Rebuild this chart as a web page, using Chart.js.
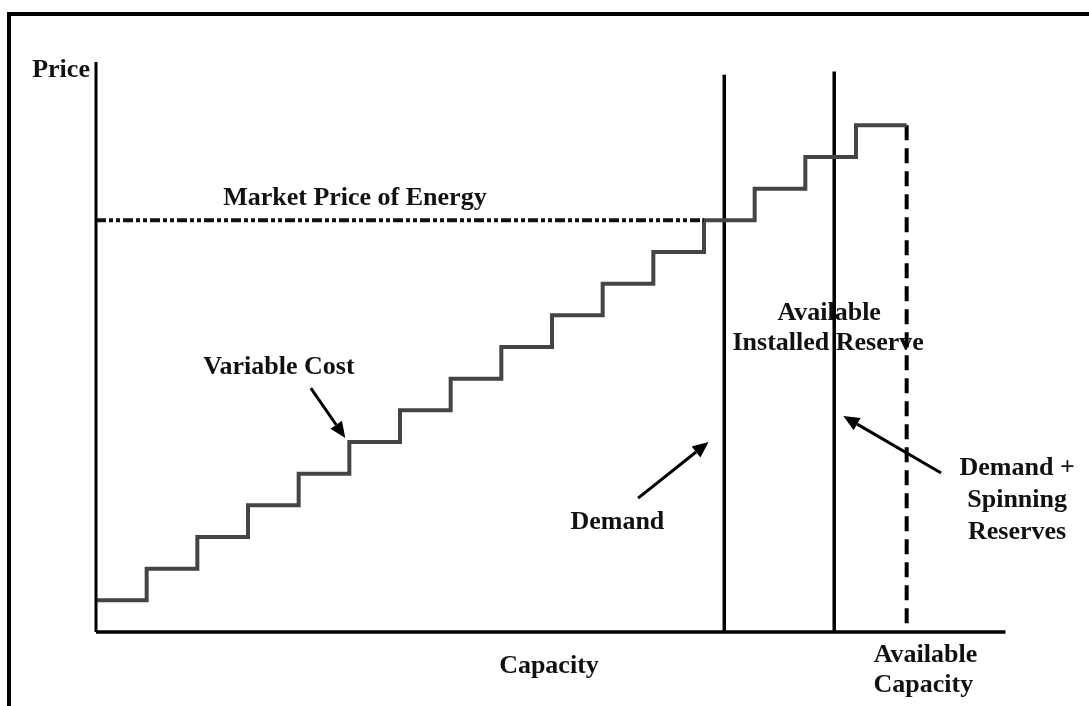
<!DOCTYPE html>
<html lang="en">
<head>
  <meta charset="UTF-8" />
  <title>Market Price of Energy – Supply Stack</title>
  <script src="https://cdn.jsdelivr.net/npm/chart.js@4.4.0/dist/chart.umd.min.js"></script>
  <style>
    html, body { margin: 0; padding: 0; background: #fff; overflow: hidden; }
    #wrap { position: relative; width: 1089px; height: 706px; }
    #frame { position: absolute; left: 7px; top: 12px; width: 1200px; height: 800px;
             border: 4px solid #000; box-sizing: border-box; pointer-events: none; }
  </style>
</head>
<body>
  <div id="wrap">
    <canvas id="stack"></canvas>
    <div id="frame"></div>
  </div>

  <script>
    // ---- data (capacity units = one generator block, price units = one cost step) ----
    const stepCapacity  = [0, 1, 2, 3, 4, 5, 6, 7, 8, 9, 10, 11, 12, 13, 14, 15, 16];
    const stepCost      = [1, 2, 3, 4, 5, 6, 7, 8, 9, 10, 11, 12, 13, 14, 15, 16, 16];
    const marketPrice   = 13;
    const marketPriceTo = 12;            // dotted line runs until it meets the stack
    const demand        = 12.4;
    const demandTop     = 17.6;
    const spinning      = 14.57;         // demand + spinning reserves
    const spinningTop   = 17.7;
    const availableCap  = 16;            // dashed line, available capacity
    const xAxisEnd      = 17.95;
    const yAxisEnd      = 18;

    const seg = (x0, y0, x1, y1) => [{ x: x0, y: y0 }, { x: x1, y: y1 }];
    const base = { showLine: true, pointRadius: 0, clip: false, fill: false };

    // ---- labels & arrows (in data units) ----
    const font = 'bold 26px "Liberation Serif", "Times New Roman", serif';
    const labels = [
      ['Price', -0.12, 17.75, 'right'],
      ['Market Price of Energy', 5.11, 13.7],
      ['Variable Cost', 3.61, 8.37],
      ['Available', 14.47, 10.07],
      ['Installed Reserve', 14.45, 9.13],
      ['Demand', 10.29, 3.47],
      ['Demand +', 18.18, 5.18],
      ['Spinning', 18.18, 4.17],
      ['Reserves', 18.18, 3.16],
      ['Capacity', 8.94, -1.07],
      ['Available', 16.37, -0.73],
      ['Capacity', 16.33, -1.67]
    ];
    const arrows = [
      [4.24, 7.70, 4.92, 6.13],
      [10.70, 4.23, 12.09, 6.00],
      [16.68, 5.02, 14.75, 6.82]
    ];

    const overlay = {
      id: 'overlay',
      beforeDatasetsDraw(chart) {
        const { ctx, scales: { x, y } } = chart;
        ctx.save();
        ctx.font = font;
        ctx.fillStyle = '#111';
        ctx.textBaseline = 'middle';
        labels.forEach(([t, vx, vy, align]) => {
          ctx.textAlign = align || 'center';
          ctx.fillText(t, x.getPixelForValue(vx), y.getPixelForValue(vy));
        });
        ctx.restore();
      },
      afterDatasetsDraw(chart) {
        const { ctx, scales: { x, y } } = chart;
        ctx.save();
        ctx.strokeStyle = '#000';
        ctx.fillStyle = '#000';
        ctx.lineWidth = 3;
        arrows.forEach(([x0, y0, x1, y1]) => {
          const px0 = x.getPixelForValue(x0), py0 = y.getPixelForValue(y0);
          const px1 = x.getPixelForValue(x1), py1 = y.getPixelForValue(y1);
          const a = Math.atan2(py1 - py0, px1 - px0);
          const hl = 16, hw = 7;
          const bx = px1 - hl * Math.cos(a), by = py1 - hl * Math.sin(a);
          ctx.beginPath();
          ctx.moveTo(px0, py0);
          ctx.lineTo(bx, by);
          ctx.stroke();
          ctx.beginPath();
          ctx.moveTo(px1, py1);
          ctx.lineTo(bx + hw * Math.sin(a), by - hw * Math.cos(a));
          ctx.lineTo(bx - hw * Math.sin(a), by + hw * Math.cos(a));
          ctx.closePath();
          ctx.fill();
        });
        ctx.restore();
      }
    };

    new Chart(document.getElementById('stack'), {
      type: 'scatter',
      data: {
        datasets: [
          // axes
          { ...base, data: seg(0, 0, 0, yAxisEnd), borderColor: '#000', borderWidth: 3 },
          { ...base, data: seg(0, 0, xAxisEnd, 0), borderColor: '#000', borderWidth: 3.5 },
          // market price
          { ...base, data: seg(0, marketPrice, marketPriceTo, marketPrice), borderColor: '#111',
            borderWidth: 4, borderDash: [10, 3, 4, 3, 4, 3] },
          // variable cost stack
          { ...base, data: stepCapacity.map((c, i) => ({ x: c, y: stepCost[i] })),
            stepped: 'before', borderColor: '#444', borderWidth: 4 },
          // demand / spinning reserves / available capacity
          { ...base, data: seg(demand, 0, demand, demandTop), borderColor: '#000', borderWidth: 3.5 },
          { ...base, data: seg(spinning, 0, spinning, spinningTop), borderColor: '#000', borderWidth: 3.5 },
          { ...base, data: seg(availableCap, stepCost[stepCost.length - 1], availableCap, 0),
            borderColor: '#000', borderWidth: 4, borderDash: [15, 8] }
        ]
      },
      options: {
        responsive: true,
        maintainAspectRatio: false,
        animation: false,
        layout: { padding: { left: 96, right: 81, top: 62, bottom: 74 } },
        scales: {
          x: { type: 'linear', min: 0, max: 18, display: false },
          y: { type: 'linear', min: 0, max: 18, display: false }
        },
        plugins: { legend: { display: false }, tooltip: { enabled: false } }
      },
      plugins: [overlay]
    });
  </script>
</body>
</html>
